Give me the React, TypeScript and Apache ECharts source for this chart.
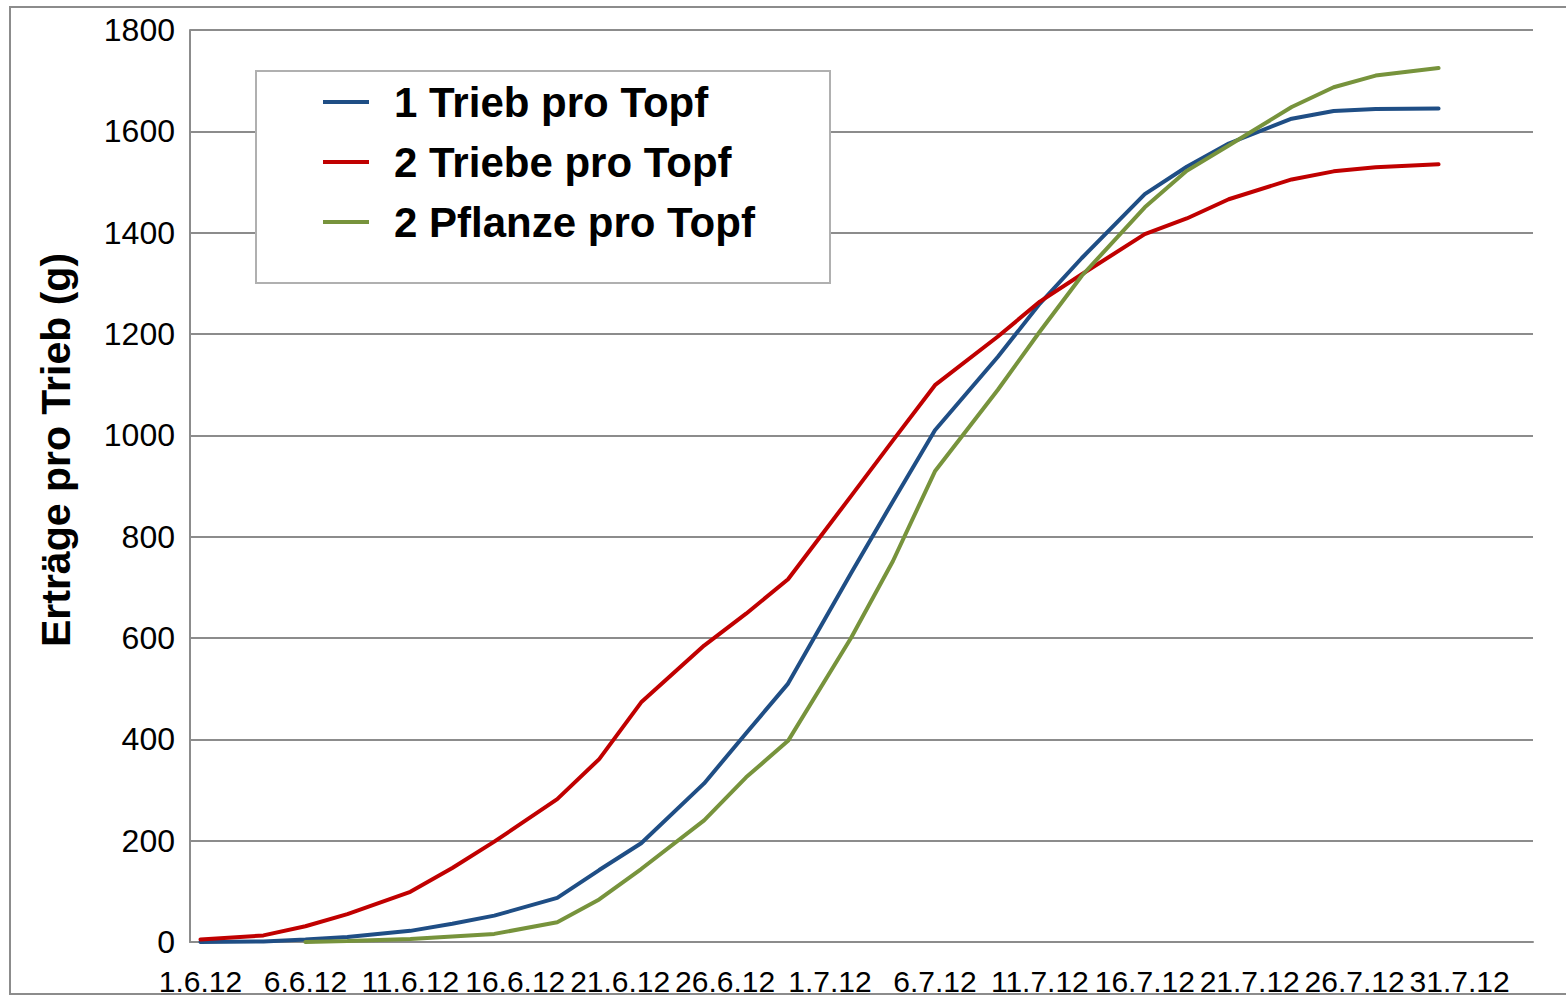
import React, { useEffect, useRef } from "react";
import * as echarts from "echarts";

const dates = [
  "2012-06-01", "2012-06-04", "2012-06-06", "2012-06-08", "2012-06-11", "2012-06-13",
  "2012-06-15", "2012-06-18", "2012-06-20", "2012-06-22", "2012-06-25", "2012-06-27",
  "2012-06-29", "2012-07-02", "2012-07-04", "2012-07-06", "2012-07-09", "2012-07-11",
  "2012-07-13", "2012-07-16", "2012-07-18", "2012-07-20", "2012-07-23", "2012-07-25",
  "2012-07-27", "2012-07-30",
];

const seriesNames = ["1 Trieb pro Topf", "2 Triebe pro Topf", "2 Pflanze pro Topf"];

const einTrieb = [0, 1, 5, 10, 22, 36, 52, 87, 142, 195, 313, 412, 510, 728, 870, 1010, 1155, 1260, 1350, 1476, 1530, 1576, 1625, 1640, 1644, 1645];
const zweiTriebe = [5, 13, 31, 55, 99, 146, 198, 282, 361, 473, 585, 648, 716, 880, 990, 1099, 1195, 1264, 1318, 1397, 1428, 1466, 1505, 1521, 1529, 1535];
const zweiPflanzen = [null, null, 0, 2, 6, 11, 16, 39, 84, 144, 240, 325, 397, 600, 752, 929, 1090, 1205, 1315, 1450, 1522, 1572, 1648, 1687, 1710, 1725];

const tickDates = [
  "2012-06-01", "2012-06-06", "2012-06-11", "2012-06-16", "2012-06-21", "2012-06-26",
  "2012-07-01", "2012-07-06", "2012-07-11", "2012-07-16", "2012-07-21", "2012-07-26", "2012-07-31",
];
const tickLabels = [
  "1.6.12", "6.6.12", "11.6.12", "16.6.12", "21.6.12", "26.6.12",
  "1.7.12", "6.7.12", "11.7.12", "16.7.12", "21.7.12", "26.7.12", "31.7.12",
];

const yTitle = "Erträge pro Trieb (g)";
const colors = ["#1F4E85", "#C00000", "#77933C"];

const START = Date.UTC(2012, 5, 1);
const dayOf = (s: string) => {
  const [y, m, d] = s.split("-").map(Number);
  return Math.round((Date.UTC(y, m - 1, d) - START) / 86400000);
};

export default function App() {
  const ref = useRef<HTMLDivElement>(null);
  useEffect(() => {
    const chart = echarts.init(ref.current!, null, { renderer: "svg" });
    const tickDays = tickDates.map(dayOf);
    const mk = (vals: (number | null)[]) => dates.map((d, i) => [dayOf(d), vals[i]]);
    const allVals = [einTrieb, zweiTriebe, zweiPflanzen];
    const font = "'Liberation Sans', Arial, sans-serif";
    chart.setOption({
      animation: false,
      backgroundColor: "#ffffff",
      textStyle: { fontFamily: font },
      grid: { left: 190, right: 33, top: 30, bottom: 53, containLabel: false },
      graphic: [
        {
          type: "rect",
          shape: { x: 10, y: 7, width: 1600, height: 987 },
          style: { fill: "none", stroke: "#8c8c8c", lineWidth: 2 },
          z: -10,
          silent: true,
        },
        {
          type: "rect",
          shape: { x: 256, y: 71, width: 574, height: 212 },
          style: { fill: "#ffffff", stroke: "#b0b0b0", lineWidth: 2 },
          z: 50,
          silent: true,
        },
        {
          type: "text",
          x: 56,
          y: 450,
          rotation: Math.PI / 2,
          z: 60,
          style: {
            text: yTitle,
            fontSize: 41,
            fontWeight: "bold",
            fontFamily: font,
            fill: "#000",
            textAlign: "center",
            textVerticalAlign: "middle",
          },
        },
      ],
      legend: {
        show: true,
        orient: "vertical",
        left: 318,
        top: 76,
        itemWidth: 46,
        itemHeight: 4,
        itemGap: 18,
        icon: "rect",
        z: 60,
        textStyle: {
          fontSize: 42,
          fontWeight: "bold",
          color: "#000",
          fontFamily: font,
          lineHeight: 40,
          padding: [0, 0, 0, 20],
        },
        data: seriesNames,
      },
      xAxis: {
        type: "value",
        min: -0.5,
        max: 63.5,
        axisLine: { show: true, onZero: false, lineStyle: { color: "#8c8c8c", width: 2 } },
        axisTick: { show: false },
        splitLine: { show: false },
        axisLabel: {
          customValues: tickDays,
          formatter: (v: number) => {
            const i = tickDays.indexOf(Math.round(v));
            return i >= 0 ? tickLabels[i] : "";
          },
          fontSize: 30,
          color: "#000",
          margin: 24,
          hideOverlap: false,
        },
      },
      yAxis: {
        type: "value",
        min: 0,
        max: 1800,
        interval: 200,
        axisLine: { show: true, onZero: false, lineStyle: { color: "#8c8c8c", width: 2 } },
        axisTick: { show: false },
        splitLine: { show: true, lineStyle: { color: "#8c8c8c", width: 2 } },
        axisLabel: {
          fontSize: 32,
          color: "#000",
          margin: 15,
          formatter: (v: number) => String(v),
        },
      },
      series: seriesNames.map((name, i) => ({
        name,
        type: "line",
        data: mk(allVals[i]),
        symbol: "none",
        color: colors[i],
        lineStyle: { width: 4, color: colors[i], cap: "round" },
        connectNulls: false,
        z: 2 + i,
      })),
    });
    return () => chart.dispose();
  }, []);
  return (
    <div
      ref={ref}
      style={{ position: "fixed", left: 0, top: 0, width: 1566, height: 996 }}
    />
  );
}
